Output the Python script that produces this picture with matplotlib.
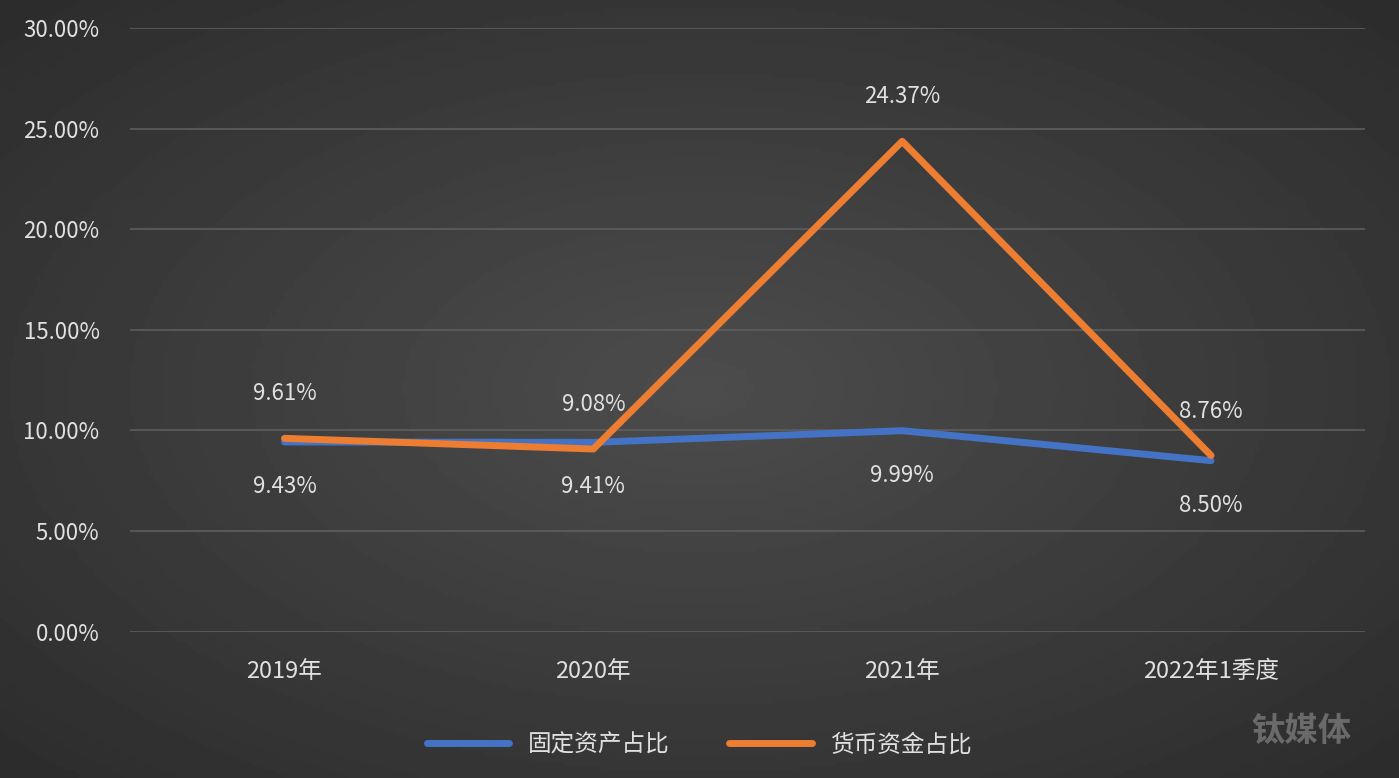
import matplotlib
matplotlib.use('Agg')
import matplotlib.pyplot as plt
import numpy as np

plt.rcParams['font.family'] = ['Noto Sans CJK SC', 'DejaVu Sans']

categories = ['2019年', '2020年', '2021年', '2022年1季度']
fixed_assets = [9.43, 9.41, 9.99, 8.50]
cash_funds = [9.61, 9.08, 24.37, 8.76]

fig = plt.figure(figsize=(13.99, 7.78), dpi=100)
# dark radial-ish background
bg = fig.add_axes([0, 0, 1, 1], zorder=-10)
yy, xx = np.mgrid[-1:1:200j, -1:1:300j]
r = np.sqrt(xx**2 + yy**2)
bg.imshow(0.30 - 0.09 * r, cmap='gray', vmin=0, vmax=1, aspect='auto', extent=[0, 1, 0, 1])
bg.axis('off')

ax = fig.add_axes([0.093, 0.188, 0.883, 0.776])
ax.patch.set_alpha(0)
x = np.arange(len(categories))
ax.plot(x, fixed_assets, color='#4472C4', lw=5, label='固定资产占比', solid_capstyle='round')
ax.plot(x, cash_funds, color='#ED7D31', lw=5, label='货币资金占比', solid_capstyle='round')

txt = '#e0e0e0'
for i in x:
    ax.annotate(f'{cash_funds[i]:.2f}%', (i, cash_funds[i]), xytext=(0, 32),
                textcoords='offset points', ha='center', va='center', color=txt, fontsize=16)
    ax.annotate(f'{fixed_assets[i]:.2f}%', (i, fixed_assets[i]), xytext=(0, -32),
                textcoords='offset points', ha='center', va='center', color=txt, fontsize=16)

ax.set_xlim(-0.5, 3.5)
ax.set_ylim(0, 30)
ax.set_yticks(np.arange(0, 31, 5))
ax.set_yticklabels([f'{v:.2f}%' for v in range(0, 31, 5)])
ax.set_xticks(x)
ax.set_xticklabels(categories)
ax.tick_params(colors=txt, labelsize=16, length=0)
ax.tick_params(axis='x', labelsize=17, pad=20)
ax.tick_params(axis='y', pad=22)
for lab in ax.get_yticklabels():
    lab.set_horizontalalignment('right')
ax.grid(axis='y', color='#5e5e5e', lw=1.2)
for s in ax.spines.values():
    s.set_visible(False)

leg = fig.legend(loc='lower center', bbox_to_anchor=(0.5, 0.0), ncol=2, frameon=False,
                 fontsize=17, labelcolor=txt, handlelength=3.5, columnspacing=2.5)
fig.text(0.93, 0.06, '钛媒体', color='#6a6a6a', fontsize=24, ha='center', va='center', weight='bold')

fig.savefig('out.png', dpi=100)
